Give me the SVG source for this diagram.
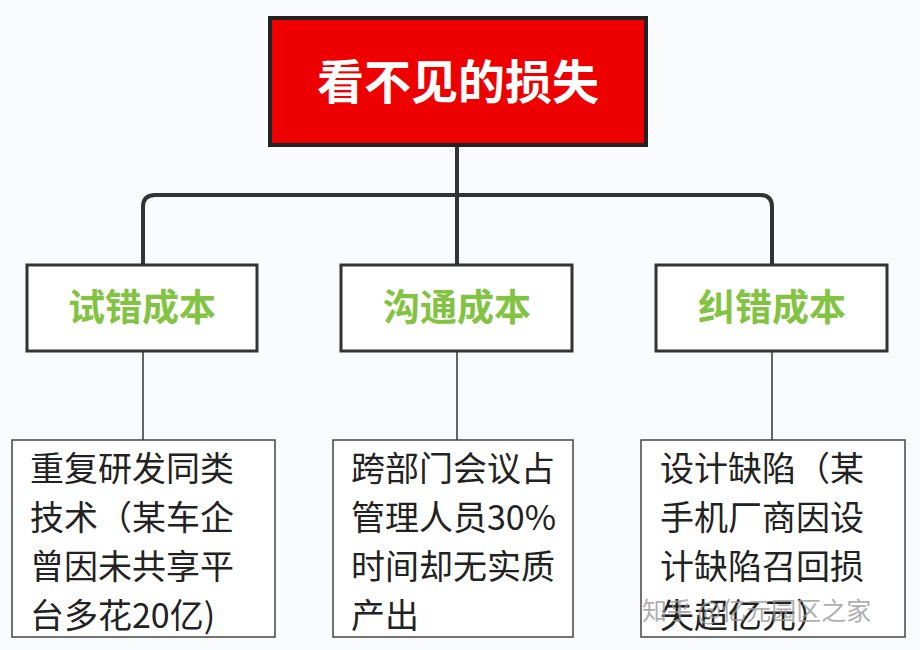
<svg xmlns="http://www.w3.org/2000/svg" width="920" height="650" viewBox="0 0 920 650">
<style>
.f{font-family:"Noto Sans CJK SC","Liberation Sans",sans-serif}
.l2{fill:#fff;stroke:#333;stroke-width:3}
.l3{fill:#fff;stroke:#444;stroke-width:1.5}
.g{fill:#82c341;font-size:37px;font-weight:bold;text-anchor:middle}
.t{fill:#222;font-size:34px}
.c{fill:none;stroke:#333}
</style>
<rect width="920" height="650" fill="#f9fbfc"/>
<g id="connectors">
<path class="c" stroke-width="4" d="M457 146V265M143 265V207Q143 195 155 195H760Q772 195 772 207V265"/>
<path class="c" stroke-width="1.5" d="M143 351V440M457 351V440M772 351V440"/>
</g>
<g id="root">
<rect x="270" y="18" width="376" height="127" fill="#ee0000" stroke="#222" stroke-width="4"/>
<text class="f" x="458" y="99" fill="#fff" font-size="47" font-weight="bold" text-anchor="middle">看不见的损失</text>
</g>
<g id="n1"><rect class="l2" x="27" y="265" width="230" height="86"/><text class="f g" x="142" y="321">试错成本</text></g>
<g id="n2"><rect class="l2" x="341" y="265" width="231" height="86"/><text class="f g" x="457" y="321">沟通成本</text></g>
<g id="n3"><rect class="l2" x="656" y="265" width="231" height="86"/><text class="f g" x="772" y="321">纠错成本</text></g>
<g id="d1"><rect class="l3" x="12" y="440" width="263" height="197"/>
<text class="f t"><tspan x="30" y="481">重复研发同类</tspan><tspan x="30" y="530">技术（某车企</tspan><tspan x="30" y="579">曾因未共享平</tspan><tspan x="30" y="628">台多花20亿)</tspan></text></g>
<g id="d2"><rect class="l3" x="333" y="440" width="240" height="197"/>
<text class="f t"><tspan x="351" y="481">跨部门会议占</tspan><tspan x="351" y="530">管理人员30%</tspan><tspan x="351" y="579">时间却无实质</tspan><tspan x="351" y="628">产出</tspan></text></g>
<g id="d3"><rect class="l3" x="641" y="440" width="264" height="197"/>
<text class="f t"><tspan x="660" y="481">设计缺陷（某</tspan><tspan x="660" y="530">手机厂商因设</tspan><tspan x="660" y="579">计缺陷召回损</tspan><tspan x="660" y="628">失超亿元）</tspan></text></g>
<text class="f" x="642" y="620" fill="#999" fill-opacity="0.8" font-size="25">知乎 @亿元园区之家</text>
</svg>
